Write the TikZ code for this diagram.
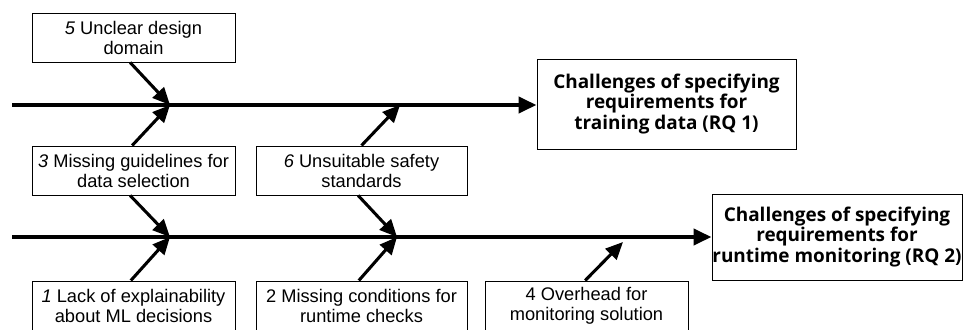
\documentclass[tikz,border=0pt]{standalone}
\usepackage{fontspec}
\setmainfont{Liberation Sans}
\newfontfamily\headfont{Open Sans}
\usetikzlibrary{arrows.meta}
\begin{document}
\begin{tikzpicture}[x=0.75pt,y=-0.75pt,
  cbox/.style={draw,line width=0.75pt,align=center,inner sep=0pt,
    font=\fontsize{13.7}{15}\selectfont,minimum height=36.75pt},
  wpx/.style={minimum width=#1*0.75pt},
  hpx/.style={minimum height=#1*0.75pt},
  rqbox/.style={draw,line width=0.75pt,align=center,inner sep=0pt,
    font=\headfont\bfseries\fontsize{14.2}{15.4}\selectfont},
  spine/.style={line width=3pt,-{Triangle[length=13.5pt,width=12pt]}},
  bone/.style={line width=2.3pt,-{Triangle[length=13pt,width=11.5pt]}}]
\useasboundingbox (0,0) rectangle (963,329);
% boxes
\node[cbox,wpx=203] (b5) at (133.5,37.5) {\textit{5} Unclear design\\domain};
\node[cbox,wpx=203] (b3) at (133.5,170.5) {\textit{3} Missing guidelines for\\data selection};
\node[cbox,wpx=211] (b6) at (361.5,170.5) {\textit{6} Unsuitable safety\\standards};
\node[cbox,wpx=203,hpx=50] (b1) at (133.5,306) {\textit{1} Lack of explainability\\about ML decisions};
\node[cbox,wpx=211,hpx=50] (b2) at (361.5,306) {2 Missing conditions for\\runtime checks};
\node[cbox,wpx=203,hpx=50] (b4) at (586.5,306) {4 Overhead for\\monitoring solution};
\node[rqbox,wpx=259,hpx=90] (rq1) at (666.5,104) {Challenges of specifying\\requirements for\\training data (RQ 1)};
\node[rqbox,wpx=250,hpx=86] (rq2) at (837,237) {Challenges of specifying\\requirements for\\runtime monitoring (RQ 2)};
% spines
\coordinate (s1) at (12,105);
\coordinate (s2) at (12,237);
\draw[spine] (s1) -- (s1 -| rq1.west);
\draw[spine] (s2) -- (s2 -| rq2.west);
% junctions
\coordinate (j1) at (170,105);
\coordinate (j2) at (400,105);
\coordinate (j3) at (170,237);
\coordinate (j4) at (397,237);
\coordinate (j5) at (623,242);
\draw[bone] ([xshift=-2.5pt]b5.south) -- (j1);
\draw[bone] ([xshift=-1pt]b3.north) -- (j1);
\draw[bone] ([xshift=0pt]b6.north) -- (j2);
\draw[bone] ([xshift=-2.5pt]b3.south) -- (j3);
\draw[bone] ([xshift=-2.5pt]b6.south) -- (j4);
\draw[bone] ([xshift=-2pt]b1.north) -- (j3);
\draw[bone] ([xshift=-2pt]b2.north) -- (j4);
\draw[bone] ([xshift=-1pt]b4.north) -- (j5);
\end{tikzpicture}
\end{document}
